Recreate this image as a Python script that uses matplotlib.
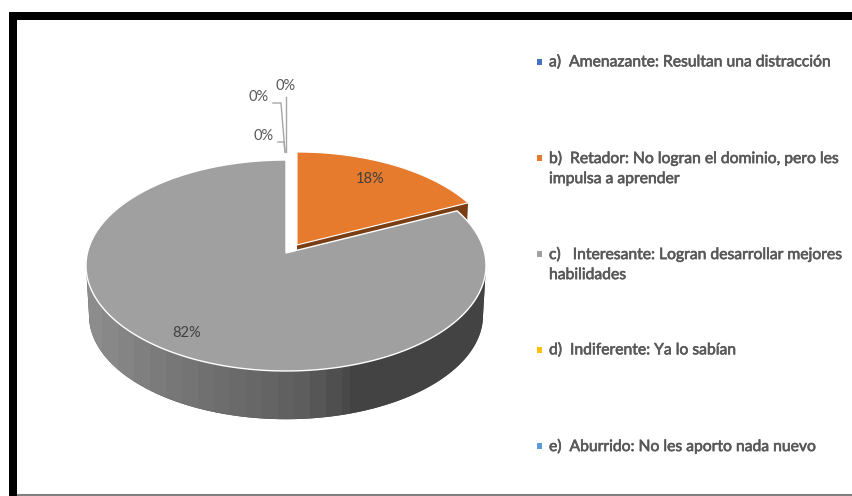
import numpy as np
import matplotlib
matplotlib.use("Agg")
import matplotlib.pyplot as plt
import matplotlib.patheffects as pe
from matplotlib.patches import Polygon, Rectangle

# Data
categories = ["a)  Amenazante: Resultan una distracción",
              "b)  Retador: No logran el dominio, pero les\nimpulsa a aprender",
              "c)   Interesante: Logran desarrollar mejores\nhabilidades",
              "d)  Indiferente: Ya lo sabían",
              "e)  Aburrido: No les aporto nada nuevo"]
values = [0, 18, 82, 0, 0]
labels = ["0%", "18%", "82%", "0%", "0%"]
colors = ["#4472c4", "#e67a2d", "#a0a0a0", "#ffc000", "#5b9bd5"]

W, H = 852, 496
fig = plt.figure(figsize=(W/100, H/100), dpi=100)
ax = fig.add_axes([0, 0, 1, 1])
ax.set_xlim(0, W); ax.set_ylim(H, 0); ax.axis("off")

FONT = "Lato"
TXT = "#595959"
heavy = [pe.withStroke(linewidth=0.45, foreground=TXT)]

# Perspective mapping of the pie disc
B, A, P = 198.6, 104.0, 0.1185
def proj(theta_deg, c, scale=1.0):
    t = np.radians(theta_deg)
    X, Y = np.sin(t), np.cos(t)
    d = 1 + P*Y
    return c[0] + scale*B*X/d, c[1] - scale*A*Y/d

def disc(a0, a1, c, n=200, scale=1.0):
    th = np.linspace(a0, a1, n)
    x, y = proj(th, c, scale)
    return np.column_stack([np.r_[c[0], x], np.r_[c[1], y]])

cum = np.cumsum([0] + values) * 3.6
a_or0, a_or1 = cum[1], cum[2]
a_gr0, a_gr1 = cum[2], cum[3]

c_or = (297, 245); c_gr = (286, 253)
DEPTH = 50; SB = 0.985
c_or_b = (c_or[0], c_or[1] + DEPTH); c_gr_b = (c_gr[0], c_gr[1] + DEPTH)

# Orange cut face
x1, y1 = proj(a_or1, c_or); x1b, y1b = proj(a_or1, c_or_b, SB)
ax.add_patch(Polygon([c_or, (x1, y1), (x1b, y1b), c_or_b], fc="#7a3e14", ec="none", zorder=2))

# Grey rim: vertical shade bands clipped to the side silhouette
th = np.linspace(96.8, 263.2, 300)
tx, ty = proj(th, c_gr)
bx, by = proj(th[::-1], c_gr_b, SB)
hull = Polygon(np.column_stack([np.r_[tx, bx], np.r_[ty, by]]), fc="#444444", ec="none", zorder=3)
ax.add_patch(hull)
band_edges = np.r_[np.arange(86, 350, 16), 350, 486]
for a, b in zip(band_edges[:-1], band_edges[1:]):
    v = int(np.interp((a+b)/2, [90, 170, 300, 350, 400], [0x8e, 0x78, 0x5e, 0x48, 0x43]))
    col = f"#{v:02x}{v:02x}{v:02x}"
    r = Rectangle((a, 250), b-a, 180, fc=col, ec="none", zorder=3.1, antialiased=False)
    ax.add_patch(r)
    r.set_clip_path(hull)

# Top faces
ax.add_patch(Polygon(disc(a_gr0, a_gr1, c_gr, 400), fc=colors[2], ec="white", lw=1.0, zorder=4))
ax.add_patch(Polygon(disc(a_or0, a_or1, c_or), fc=colors[1], ec="white", lw=0.8, zorder=5))

# Slice labels
ax.text(370, 179, labels[1], fontsize=10.5, family=FONT, color="#404040", ha="center", va="center", zorder=6)
ax.text(187, 333, labels[2], fontsize=10.5, family=FONT, color="#404040", ha="center", va="center", zorder=6)
ax.text(259, 97, labels[0], fontsize=10.5, family=FONT, color=TXT, ha="center", va="center")
ax.text(286, 86, labels[3], fontsize=10.5, family=FONT, color=TXT, ha="center", va="center")
ax.text(264, 136, labels[4], fontsize=10.5, family=FONT, color=TXT, ha="center", va="center")

# Leader lines
lc = "#a6a6a6"
ax.plot([286, 286], [97, 152], color=lc, lw=1)
ax.plot([273, 281, 285], [103, 103, 152], color=lc, lw=1)
ax.plot([278, 284, 285], [142, 142, 152], color=lc, lw=1)

# Legend
leg_y = [62, 158, 254, 350, 446]
for cat, col, y in zip(categories, colors, leg_y):
    ax.add_patch(Rectangle((537, y-3), 5, 6, fc=col, ec="none"))
    ax.text(549, y-7, cat, fontsize=11.3, family=FONT, color=TXT, ha="left", va="top",
            linespacing=1.55, path_effects=heavy)

# Screenshot border
ax.add_patch(Rectangle((9, 12), W-9, 7.5, fc="black", ec="none", zorder=10))
ax.add_patch(Rectangle((9, 12), 8, H-12, fc="black", ec="none", zorder=10))
ax.plot([17, W], [495, 495], color="#808080", lw=1.5, zorder=9)

fig.savefig("out.png", dpi=100)
